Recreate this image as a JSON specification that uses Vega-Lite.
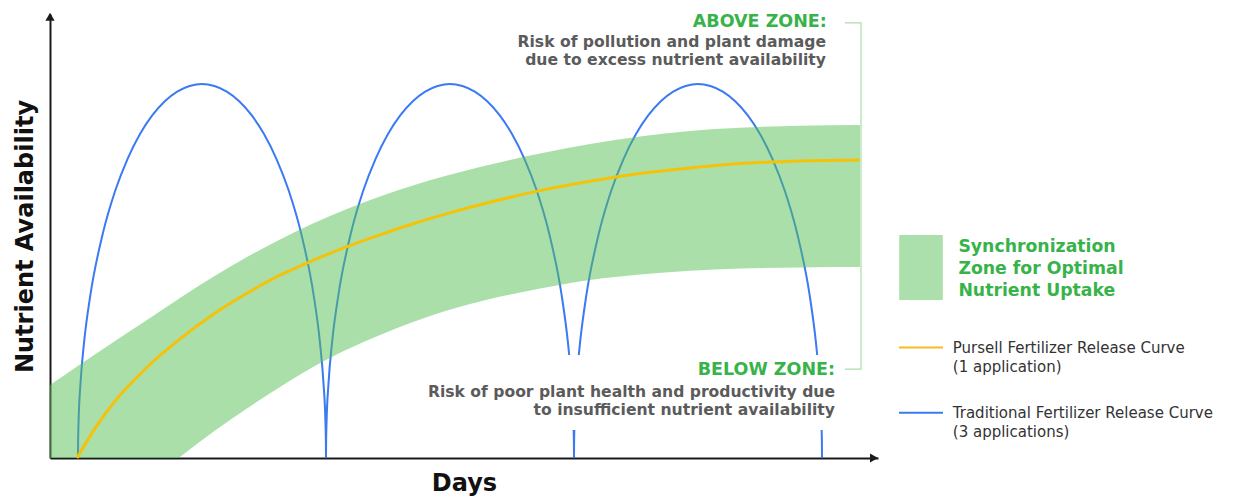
{
  "$schema": "https://vega.github.io/schema/vega-lite/v6.json",
  "width": 828,
  "height": 444,
  "autosize": {"type": "none"},
  "padding": {"left": 50, "top": 14, "right": 355, "bottom": 39},
  "background": "white",
  "config": {
    "view": {"stroke": null},
    "font": "DejaVu Sans",
    "axis": {
      "grid": false, "ticks": false, "labels": false,
      "domainColor": "#1a1a1a", "domainWidth": 2,
      "titleFont": "DejaVu Sans", "titleFontWeight": "bold", "titleFontSize": 24, "titleColor": "#111111"
    },
    "axisX": {"titlePadding": 13},
    "axisY": {"titlePadding": 13}
  },
  "datasets": {
    "blue": [
      {"seg":"a1","x":7,"y":0},{"seg":"a1","x":7.03,"y":4.2},{"seg":"a1","x":7.15,"y":9.3},{"seg":"a1","x":7.62,"y":18.6},{"seg":"a1","x":8.55,"y":29.2},{"seg":"a1","x":10.1,"y":40.8},{"seg":"a1","x":13.2,"y":56.1},{"seg":"a1","x":16.3,"y":66.8},{"seg":"a1","x":19.4,"y":74.8},{"seg":"a1","x":22.5,"y":81},{"seg":"a1","x":25.6,"y":85.7},{"seg":"a1","x":28.7,"y":89.2},{"seg":"a1","x":31.8,"y":91.6},{"seg":"a1","x":34.9,"y":93},{"seg":"a1","x":38,"y":93.5},{"seg":"a1","x":41.1,"y":93},{"seg":"a1","x":44.2,"y":91.6},{"seg":"a1","x":47.3,"y":89.2},{"seg":"a1","x":50.4,"y":85.7},{"seg":"a1","x":53.5,"y":81},{"seg":"a1","x":56.6,"y":74.8},{"seg":"a1","x":59.7,"y":66.8},{"seg":"a1","x":62.8,"y":56.1},{"seg":"a1","x":65.9,"y":40.8},{"seg":"a1","x":67.45,"y":29.2},{"seg":"a1","x":68.38,"y":18.6},{"seg":"a1","x":68.85,"y":9.3},{"seg":"a1","x":68.97,"y":4.2},{"seg":"a1","x":69,"y":0},
      {"seg":"a2","x":69,"y":0},{"seg":"a2","x":69.03,"y":4.2},{"seg":"a2","x":69.15,"y":9.3},{"seg":"a2","x":69.62,"y":18.6},{"seg":"a2","x":70.55,"y":29.2},{"seg":"a2","x":72.1,"y":40.8},{"seg":"a2","x":75.2,"y":56.1},{"seg":"a2","x":78.3,"y":66.8},{"seg":"a2","x":81.4,"y":74.8},{"seg":"a2","x":84.5,"y":81},{"seg":"a2","x":87.6,"y":85.7},{"seg":"a2","x":90.7,"y":89.2},{"seg":"a2","x":93.8,"y":91.6},{"seg":"a2","x":96.9,"y":93},{"seg":"a2","x":100,"y":93.5},{"seg":"a2","x":103.1,"y":93},{"seg":"a2","x":106.2,"y":91.6},{"seg":"a2","x":109.3,"y":89.2},{"seg":"a2","x":112.4,"y":85.7},{"seg":"a2","x":115.5,"y":81},{"seg":"a2","x":118.6,"y":74.8},{"seg":"a2","x":121.7,"y":66.8},{"seg":"a2","x":124.8,"y":56.1},{"seg":"a2","x":127.9,"y":40.8},{"seg":"a2","x":129.45,"y":29.2},{"seg":"a2","x":129.8,"y":25.75},
      {"seg":"a2b","x":130.91,"y":7},{"seg":"a2b","x":130.97,"y":4.2},{"seg":"a2b","x":131,"y":0},
      {"seg":"a3a","x":131,"y":0},{"seg":"a3a","x":131.03,"y":4.2},{"seg":"a3a","x":131.09,"y":7},
      {"seg":"a3b","x":132.2,"y":25.75},{"seg":"a3b","x":132.55,"y":29.2},{"seg":"a3b","x":134.1,"y":40.8},{"seg":"a3b","x":137.2,"y":56.1},{"seg":"a3b","x":140.3,"y":66.8},{"seg":"a3b","x":143.4,"y":74.8},{"seg":"a3b","x":146.5,"y":81},{"seg":"a3b","x":149.6,"y":85.7},{"seg":"a3b","x":152.7,"y":89.2},{"seg":"a3b","x":155.8,"y":91.6},{"seg":"a3b","x":158.9,"y":93},{"seg":"a3b","x":162,"y":93.5},{"seg":"a3b","x":165.1,"y":93},{"seg":"a3b","x":168.2,"y":91.6},{"seg":"a3b","x":171.3,"y":89.2},{"seg":"a3b","x":174.4,"y":85.7},{"seg":"a3b","x":177.5,"y":81},{"seg":"a3b","x":180.6,"y":74.8},{"seg":"a3b","x":183.7,"y":66.8},{"seg":"a3b","x":186.8,"y":56.1},{"seg":"a3b","x":189.9,"y":40.8},{"seg":"a3b","x":191.45,"y":29.2},{"seg":"a3b","x":191.8,"y":25.75},
      {"seg":"a3c","x":192.91,"y":7},{"seg":"a3c","x":192.97,"y":4.2},{"seg":"a3c","x":193,"y":0}
    ],
    "band": [
      {"x":0,"lo":-27.25,"hi":18.25},{"x":7.5,"lo":-20.75,"hi":23.375},{"x":16.25,"lo":-13.2,"hi":29.25},{"x":25,"lo":-5.75,"hi":35},{"x":32.5,"lo":0.25,"hi":40},{"x":40.75,"lo":6.5,"hi":45.25},{"x":49.25,"lo":12.375,"hi":50.25},{"x":57.5,"lo":17.75,"hi":54.625},{"x":65.75,"lo":22.75,"hi":58.625},{"x":74.25,"lo":27.125,"hi":62.25},{"x":82.5,"lo":30.75,"hi":65.375},{"x":90.75,"lo":34,"hi":68.125},{"x":99.25,"lo":36.875,"hi":70.625},{"x":107.5,"lo":39.125,"hi":72.75},{"x":122.5,"lo":42.375,"hi":76.125},{"x":135,"lo":44.5,"hi":78.5},{"x":147.5,"lo":45.875,"hi":80.375},{"x":160,"lo":46.8,"hi":81.75},{"x":172.5,"lo":47.35,"hi":82.55},{"x":187.5,"lo":47.65,"hi":83.05},{"x":202.5,"lo":47.75,"hi":83.25}
    ],
    "yellow": [
      {"x":6.75,"y":0},{"x":8.75,"y":3.4},{"x":11.25,"y":7.4},{"x":15.5,"y":13.3},{"x":23.75,"y":22.2},{"x":32.5,"y":29.8},{"x":40.75,"y":35.9},{"x":49.25,"y":41.2},{"x":57.5,"y":45.7},{"x":65.75,"y":49.4},{"x":74.25,"y":52.85},{"x":82.5,"y":55.8},{"x":90.75,"y":58.55},{"x":99.25,"y":61.1},{"x":107.5,"y":63.3},{"x":122.5,"y":66.85},{"x":135,"y":69.2},{"x":147.5,"y":71.1},{"x":160,"y":72.5},{"x":172.5,"y":73.6},{"x":187.5,"y":74.25},{"x":202.5,"y":74.5}
    ],
    "arrows": [
      {"axis":"y","x":0,"y":110.3},
      {"axis":"x","x":206,"y":0}
    ],
    "bracket": [
      {"o":1,"x":198.75,"y":108.8},{"o":2,"x":202.75,"y":108.8},{"o":3,"x":202.75,"y":22.2},{"o":4,"x":198.75,"y":22.2}
    ],
    "legendRect": [
      {"x":212.3,"x2":223.2,"y":39.5,"y2":55.75}
    ],
    "legendLines": [
      {"series":"Pursell","x":212.25,"x2":223.25,"y":27.6},
      {"series":"Traditional","x":212.25,"x2":223.25,"y":11.3}
    ],
    "texts": [
      {"role":"zoneTitle","x":194.2,"y":107.8,"label":"ABOVE ZONE:"},
      {"role":"zoneDesc","x":194,"y":102.8,"label":"Risk of pollution and plant damage"},
      {"role":"zoneDesc","x":194,"y":98.25,"label":"due to excess nutrient availability"},
      {"role":"zoneTitle","x":196.25,"y":20.75,"label":"BELOW ZONE:"},
      {"role":"zoneDesc","x":196.25,"y":15.3,"label":"Risk of poor plant health and productivity due"},
      {"role":"zoneDesc","x":196.25,"y":10.75,"label":"to insufficient nutrient availability"},
      {"role":"legendTitle","x":227.1,"y":51.4,"label":"Synchronization"},
      {"role":"legendTitle","x":227.1,"y":46,"label":"Zone for Optimal"},
      {"role":"legendTitle","x":227.1,"y":40.5,"label":"Nutrient Uptake"},
      {"role":"legendLabel","x":225.7,"y":26.2,"label":"Pursell Fertilizer Release Curve"},
      {"role":"legendLabel","x":225.7,"y":21.6,"label":"(1 application)"},
      {"role":"legendLabel","x":225.7,"y":9.9,"label":"Traditional Fertilizer Release Curve"},
      {"role":"legendLabel","x":225.7,"y":5.3,"label":"(3 applications)"}
    ]
  },
  "layer": [
    {
      "data": {"name": "blue"},
      "mark": {"type": "line", "interpolate": "monotone", "color": "#3a7af2", "strokeWidth": 2},
      "encoding": {
        "x": {"field": "x", "type": "quantitative", "scale": {"domain": [0, 207], "nice": false, "zero": false}, "axis": {"title": "Days"}},
        "y": {"field": "y", "type": "quantitative", "scale": {"domain": [0, 111], "nice": false, "zero": false}, "axis": {"title": "Nutrient Availability"}},
        "detail": {"field": "seg"}
      }
    },
    {
      "data": {"name": "band"},
      "mark": {"type": "area", "interpolate": "monotone", "color": "#55bf55", "opacity": 0.5, "clip": true},
      "encoding": {
        "x": {"field": "x", "type": "quantitative", "scale": {"domain": [0, 207], "nice": false, "zero": false}, "axis": {"title": "Days"}},
        "y": {"field": "lo", "type": "quantitative", "scale": {"domain": [0, 111], "nice": false, "zero": false}, "axis": {"title": "Nutrient Availability"}},
        "y2": {"field": "hi"}
      }
    },
    {
      "data": {"name": "yellow"},
      "mark": {"type": "line", "interpolate": "monotone", "color": "#f5c20a", "strokeWidth": 3},
      "encoding": {
        "x": {"field": "x", "type": "quantitative", "scale": {"domain": [0, 207], "nice": false, "zero": false}, "axis": {"title": "Days"}},
        "y": {"field": "y", "type": "quantitative", "scale": {"domain": [0, 111], "nice": false, "zero": false}, "axis": {"title": "Nutrient Availability"}}
      }
    },
    {
      "data": {"name": "arrows"},
      "transform": [{"filter": "datum.axis === 'y'"}],
      "mark": {"type": "point", "shape": "triangle-up", "filled": true, "color": "#1a1a1a", "size": 85, "opacity": 1},
      "encoding": {
        "x": {"field": "x", "type": "quantitative", "scale": {"domain": [0, 207], "nice": false, "zero": false}, "axis": {"title": "Days"}},
        "y": {"field": "y", "type": "quantitative", "scale": {"domain": [0, 111], "nice": false, "zero": false}, "axis": {"title": "Nutrient Availability"}}
      }
    },
    {
      "data": {"name": "arrows"},
      "transform": [{"filter": "datum.axis === 'x'"}],
      "mark": {"type": "point", "shape": "triangle-right", "filled": true, "color": "#1a1a1a", "size": 85, "opacity": 1},
      "encoding": {
        "x": {"field": "x", "type": "quantitative", "scale": {"domain": [0, 207], "nice": false, "zero": false}, "axis": {"title": "Days"}},
        "y": {"field": "y", "type": "quantitative", "scale": {"domain": [0, 111], "nice": false, "zero": false}, "axis": {"title": "Nutrient Availability"}}
      }
    },
    {
      "data": {"name": "bracket"},
      "mark": {"type": "line", "color": "#a9dfa9", "strokeWidth": 1.2},
      "encoding": {
        "x": {"field": "x", "type": "quantitative", "scale": {"domain": [0, 207], "nice": false, "zero": false}, "axis": {"title": "Days"}},
        "y": {"field": "y", "type": "quantitative", "scale": {"domain": [0, 111], "nice": false, "zero": false}, "axis": {"title": "Nutrient Availability"}},
        "order": {"field": "o"}
      }
    },
    {
      "data": {"name": "legendRect"},
      "mark": {"type": "rect", "color": "#abdfab"},
      "encoding": {
        "x": {"field": "x", "type": "quantitative", "scale": {"domain": [0, 207], "nice": false, "zero": false}, "axis": {"title": "Days"}},
        "x2": {"field": "x2"},
        "y": {"field": "y", "type": "quantitative", "scale": {"domain": [0, 111], "nice": false, "zero": false}, "axis": {"title": "Nutrient Availability"}},
        "y2": {"field": "y2"}
      }
    },
    {
      "data": {"name": "legendLines"},
      "mark": {"type": "rule", "strokeWidth": 2},
      "encoding": {
        "x": {"field": "x", "type": "quantitative", "scale": {"domain": [0, 207], "nice": false, "zero": false}, "axis": {"title": "Days"}},
        "x2": {"field": "x2"},
        "y": {"field": "y", "type": "quantitative", "scale": {"domain": [0, 111], "nice": false, "zero": false}, "axis": {"title": "Nutrient Availability"}},
        "color": {"field": "series", "type": "nominal", "scale": {"domain": ["Pursell", "Traditional"], "range": ["#f7b924", "#3a7af2"]}, "legend": null}
      }
    },
    {
      "data": {"name": "texts"},
      "transform": [{"filter": "datum.role === 'zoneTitle'"}],
      "mark": {"type": "text", "align": "right", "baseline": "alphabetic", "font": "DejaVu Sans", "fontWeight": "bold", "fontSize": 17.5, "color": "#37b34a"},
      "encoding": {
        "x": {"field": "x", "type": "quantitative", "scale": {"domain": [0, 207], "nice": false, "zero": false}, "axis": {"title": "Days"}},
        "y": {"field": "y", "type": "quantitative", "scale": {"domain": [0, 111], "nice": false, "zero": false}, "axis": {"title": "Nutrient Availability"}},
        "text": {"field": "label"}
      }
    },
    {
      "data": {"name": "texts"},
      "transform": [{"filter": "datum.role === 'zoneDesc'"}],
      "mark": {"type": "text", "align": "right", "baseline": "alphabetic", "font": "DejaVu Sans", "fontWeight": "bold", "fontSize": 15.6, "color": "#5b5b5b"},
      "encoding": {
        "x": {"field": "x", "type": "quantitative", "scale": {"domain": [0, 207], "nice": false, "zero": false}, "axis": {"title": "Days"}},
        "y": {"field": "y", "type": "quantitative", "scale": {"domain": [0, 111], "nice": false, "zero": false}, "axis": {"title": "Nutrient Availability"}},
        "text": {"field": "label"}
      }
    },
    {
      "data": {"name": "texts"},
      "transform": [{"filter": "datum.role === 'legendTitle'"}],
      "mark": {"type": "text", "align": "left", "baseline": "alphabetic", "font": "DejaVu Sans", "fontWeight": "bold", "fontSize": 17.3, "color": "#37b34a"},
      "encoding": {
        "x": {"field": "x", "type": "quantitative", "scale": {"domain": [0, 207], "nice": false, "zero": false}, "axis": {"title": "Days"}},
        "y": {"field": "y", "type": "quantitative", "scale": {"domain": [0, 111], "nice": false, "zero": false}, "axis": {"title": "Nutrient Availability"}},
        "text": {"field": "label"}
      }
    },
    {
      "data": {"name": "texts"},
      "transform": [{"filter": "datum.role === 'legendLabel'"}],
      "mark": {"type": "text", "align": "left", "baseline": "alphabetic", "font": "DejaVu Sans", "fontWeight": "normal", "fontSize": 15, "color": "#333333"},
      "encoding": {
        "x": {"field": "x", "type": "quantitative", "scale": {"domain": [0, 207], "nice": false, "zero": false}, "axis": {"title": "Days"}},
        "y": {"field": "y", "type": "quantitative", "scale": {"domain": [0, 111], "nice": false, "zero": false}, "axis": {"title": "Nutrient Availability"}},
        "text": {"field": "label"}
      }
    }
  ]
}
